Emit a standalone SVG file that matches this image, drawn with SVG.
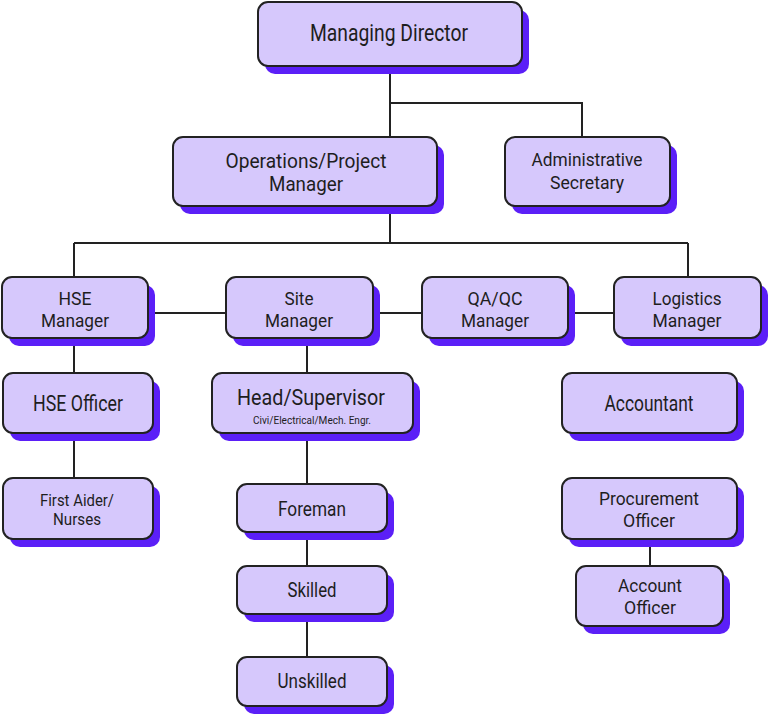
<svg xmlns="http://www.w3.org/2000/svg" width="768" height="714" viewBox="0 0 768 714">
<style>
.sh{fill:#5B1FF7}
.bx{fill:#D6C8FC;stroke:#222;stroke-width:2}
.t{font-family:Roboto,"Liberation Sans",sans-serif;fill:#1e1e1e;text-anchor:middle}
.ln{fill:none;stroke:#222;stroke-width:2}
</style>
<rect width="768" height="714" fill="#fff"/>
<g id="connectors" class="ln">
<path d="M390 66V138M390 103H582V138"/>
<path d="M390 206V243M74 243H688M74 243V277M688 243V277"/>
<path d="M148 313H614"/>
<path d="M74 338V373M74 433V478"/>
<path d="M307 338V373M307 433V484M307 532V566M307 614V657"/>
<path d="M650 539V566"/>
</g>
<g id="managing-director">
<rect class="sh" x="265" y="10" width="264" height="64" rx="10"/>
<rect class="bx" x="258" y="2" width="264" height="64" rx="10"/>
<text class="t" x="389" y="41" font-size="24" textLength="158" lengthAdjust="spacingAndGlyphs">Managing Director</text>
</g>
<g id="operations-manager">
<rect class="sh" x="180" y="145" width="264" height="69" rx="10"/>
<rect class="bx" x="173" y="137" width="264" height="69" rx="10"/>
<text class="t" x="306" y="168" font-size="19.5" textLength="161" lengthAdjust="spacingAndGlyphs">Operations/Project</text>
<text class="t" x="306" y="191" font-size="19.5" textLength="74" lengthAdjust="spacingAndGlyphs">Manager</text>
</g>
<g id="administrative-secretary">
<rect class="sh" x="512" y="145" width="165" height="69" rx="10"/>
<rect class="bx" x="505" y="137" width="165" height="69" rx="10"/>
<text class="t" x="587" y="166" font-size="19" textLength="111" lengthAdjust="spacingAndGlyphs">Administrative</text>
<text class="t" x="587" y="189" font-size="19" textLength="74" lengthAdjust="spacingAndGlyphs">Secretary</text>
</g>
<g id="hse-manager">
<rect class="sh" x="9" y="285" width="146" height="61" rx="10"/>
<rect class="bx" x="2" y="277" width="146" height="61" rx="10"/>
<text class="t" x="75" y="305" font-size="18.5" textLength="33" lengthAdjust="spacingAndGlyphs">HSE</text>
<text class="t" x="75" y="327" font-size="18.5" textLength="68" lengthAdjust="spacingAndGlyphs">Manager</text>
</g>
<g id="site-manager">
<rect class="sh" x="233" y="285" width="147" height="61" rx="10"/>
<rect class="bx" x="226" y="277" width="147" height="61" rx="10"/>
<text class="t" x="299" y="305" font-size="18.5" textLength="29" lengthAdjust="spacingAndGlyphs">Site</text>
<text class="t" x="299" y="327" font-size="18.5" textLength="68" lengthAdjust="spacingAndGlyphs">Manager</text>
</g>
<g id="qaqc-manager">
<rect class="sh" x="429" y="285" width="146" height="61" rx="10"/>
<rect class="bx" x="422" y="277" width="146" height="61" rx="10"/>
<text class="t" x="495" y="305" font-size="18.5" textLength="55" lengthAdjust="spacingAndGlyphs">QA/QC</text>
<text class="t" x="495" y="327" font-size="18.5" textLength="68" lengthAdjust="spacingAndGlyphs">Manager</text>
</g>
<g id="logistics-manager">
<rect class="sh" x="621" y="285" width="147" height="61" rx="10"/>
<rect class="bx" x="614" y="277" width="147" height="61" rx="10"/>
<text class="t" x="687" y="305" font-size="18.5" textLength="69" lengthAdjust="spacingAndGlyphs">Logistics</text>
<text class="t" x="687" y="327" font-size="18.5" textLength="69" lengthAdjust="spacingAndGlyphs">Manager</text>
</g>
<g id="hse-officer">
<rect class="sh" x="10" y="381" width="150" height="60" rx="10"/>
<rect class="bx" x="3" y="373" width="150" height="60" rx="10"/>
<text class="t" x="78" y="411" font-size="22" textLength="90" lengthAdjust="spacingAndGlyphs">HSE Officer</text>
</g>
<g id="first-aider">
<rect class="sh" x="10" y="486" width="150" height="61" rx="10"/>
<rect class="bx" x="3" y="478" width="150" height="61" rx="10"/>
<text class="t" x="77" y="506" font-size="16" textLength="74" lengthAdjust="spacingAndGlyphs">First Aider/</text>
<text class="t" x="77" y="525" font-size="16" textLength="48" lengthAdjust="spacingAndGlyphs">Nurses</text>
</g>
<g id="head-supervisor">
<rect class="sh" x="219" y="381" width="201" height="60" rx="10"/>
<rect class="bx" x="212" y="373" width="201" height="60" rx="10"/>
<text class="t" x="311" y="405" font-size="22" textLength="148" lengthAdjust="spacingAndGlyphs">Head/Supervisor</text>
<text class="t" x="312" y="424" font-size="11.5" textLength="118" lengthAdjust="spacingAndGlyphs">Civi/Electrical/Mech. Engr.</text>
</g>
<g id="foreman">
<rect class="sh" x="244" y="492" width="150" height="48" rx="10"/>
<rect class="bx" x="237" y="484" width="150" height="48" rx="10"/>
<text class="t" x="312" y="516" font-size="21" textLength="68" lengthAdjust="spacingAndGlyphs">Foreman</text>
</g>
<g id="skilled">
<rect class="sh" x="244" y="574" width="150" height="48" rx="10"/>
<rect class="bx" x="237" y="566" width="150" height="48" rx="10"/>
<text class="t" x="312" y="597" font-size="21" textLength="49" lengthAdjust="spacingAndGlyphs">Skilled</text>
</g>
<g id="unskilled">
<rect class="sh" x="244" y="665" width="150" height="49" rx="10"/>
<rect class="bx" x="237" y="657" width="150" height="49" rx="10"/>
<text class="t" x="312" y="688" font-size="21" textLength="69" lengthAdjust="spacingAndGlyphs">Unskilled</text>
</g>
<g id="accountant">
<rect class="sh" x="569" y="381" width="175" height="60" rx="10"/>
<rect class="bx" x="562" y="373" width="175" height="60" rx="10"/>
<text class="t" x="649" y="411" font-size="22" textLength="89" lengthAdjust="spacingAndGlyphs">Accountant</text>
</g>
<g id="procurement-officer">
<rect class="sh" x="569" y="486" width="175" height="61" rx="10"/>
<rect class="bx" x="562" y="478" width="175" height="61" rx="10"/>
<text class="t" x="649" y="505" font-size="18.5" textLength="100" lengthAdjust="spacingAndGlyphs">Procurement</text>
<text class="t" x="649" y="527" font-size="18.5" textLength="52" lengthAdjust="spacingAndGlyphs">Officer</text>
</g>
<g id="account-officer">
<rect class="sh" x="583" y="574" width="147" height="60" rx="10"/>
<rect class="bx" x="576" y="566" width="147" height="60" rx="10"/>
<text class="t" x="650" y="592" font-size="18.5" textLength="64" lengthAdjust="spacingAndGlyphs">Account</text>
<text class="t" x="650" y="614" font-size="18.5" textLength="52" lengthAdjust="spacingAndGlyphs">Officer</text>
</g>
</svg>
